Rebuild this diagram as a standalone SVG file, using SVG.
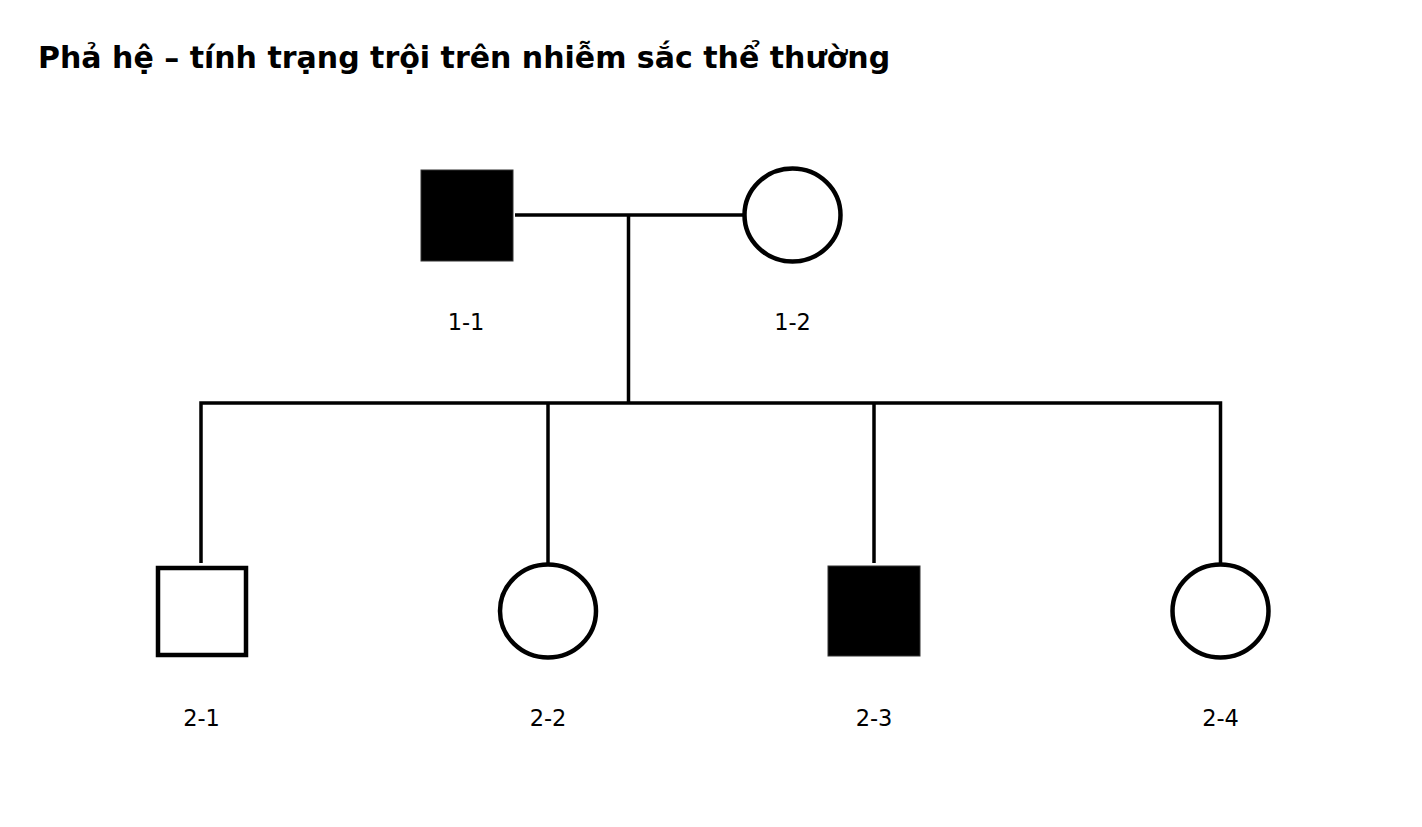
<svg xmlns="http://www.w3.org/2000/svg" width="1422" height="827" viewBox="0 0 1422 827">
<style>
.title{font-family:"DejaVu Sans",sans-serif;font-weight:bold;font-size:30px;fill:#000}
.lbl{font-family:"DejaVu Sans",sans-serif;font-size:22.5px;fill:#000;text-anchor:middle}
.line{stroke:#000;stroke-width:3.5;fill:none}
.aff{fill:#000;stroke:#333;stroke-width:1}
.un{fill:#fff;stroke:#000;stroke-width:4.5}
</style>
<rect width="1422" height="827" fill="#fff"/>
<text class="title" x="38" y="68">Phả hệ – tính trạng trội trên nhiễm sắc thể thường</text>
<g id="connectors">
<line class="line" x1="515" y1="215" x2="744" y2="215"/>
<line class="line" x1="628.5" y1="215" x2="628.5" y2="403"/>
<polyline class="line" points="201,563 201,403 1220.5,403 1220.5,563"/>
<line class="line" x1="548" y1="403" x2="548" y2="563"/>
<line class="line" x1="874" y1="403" x2="874" y2="563"/>
</g>
<g id="n1-1">
<rect class="aff" x="421" y="170" width="92" height="91"/>
<text class="lbl" x="466" y="330">1-1</text>
</g>
<g id="n1-2">
<ellipse class="un" cx="792.5" cy="215" rx="48" ry="46.5"/>
<text class="lbl" x="792.5" y="330">1-2</text>
</g>
<g id="n2-1">
<rect class="un" x="158" y="568" width="88" height="87"/>
<text class="lbl" x="201.5" y="726">2-1</text>
</g>
<g id="n2-2">
<ellipse class="un" cx="548" cy="611" rx="48" ry="46.5"/>
<text class="lbl" x="548" y="726">2-2</text>
</g>
<g id="n2-3">
<rect class="aff" x="828" y="566" width="92" height="90"/>
<text class="lbl" x="874" y="726">2-3</text>
</g>
<g id="n2-4">
<ellipse class="un" cx="1220.5" cy="611" rx="48" ry="46.5"/>
<text class="lbl" x="1220.5" y="726">2-4</text>
</g>
</svg>
